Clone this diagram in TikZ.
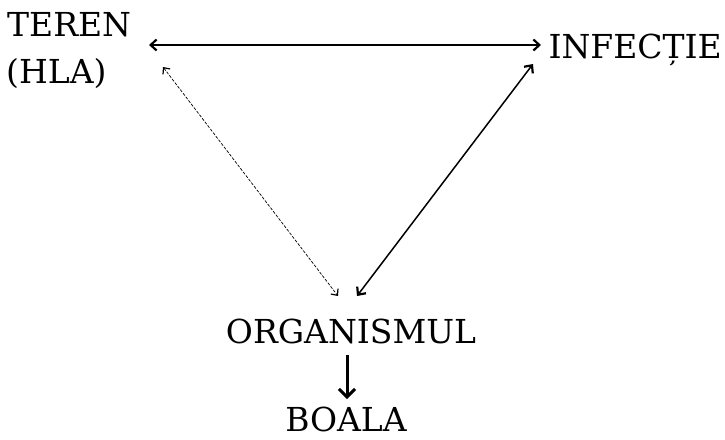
\documentclass[tikz,border=0pt]{standalone}
\usepackage{fontspec}
\setmainfont{DejaVu Serif}
\usetikzlibrary{arrows.meta}
\begin{document}
\begin{tikzpicture}[x=1pt,y=-1pt,
  lbl/.style={inner sep=0pt,text depth=0pt,font=\fontsize{33}{46}\selectfont},
  solidarrow/.style={line width=1.4pt,{Straight Barb[length=6pt,width=11pt,line width=2.2pt]}-{Straight Barb[length=6pt,width=11pt,line width=2.2pt]}},
  dotarrow/.style={line width=0.7pt,dash pattern=on 3pt off 1.5pt,{Straight Barb[length=5pt,width=9pt,line width=1.2pt]}-{Straight Barb[length=5pt,width=9pt,line width=1.2pt]}},
  downarrow/.style={line width=3pt,-{Straight Barb[length=8pt,width=16pt,line width=3pt]}}]
\useasboundingbox (0,0) rectangle (725,439);
\node[lbl,anchor=base west] (teren) at (7,36) {TEREN};
\node[lbl,anchor=base west] (hla) at (6,83) {(HLA)};
\node[lbl,anchor=base east] (infectie) at (722,58) {INFECȚIE};
\node[lbl,anchor=base] (organismul) at (351,343) {ORGANISMUL};
\node[lbl,anchor=base] (boala) at (346,431) {BOALA};
\coordinate (hl) at (149,45);
\coordinate (hr) at (541,45);
\coordinate (dl) at (163,67);
\coordinate (dr) at (338,296);
\coordinate (rl) at (533,64);
\coordinate (rr) at (357,296);
\coordinate (vt) at (347,355);
\coordinate (vb) at (347,399);
\draw[solidarrow] (hl) -- (hr);
\draw[dotarrow] (dl) -- (dr);
\draw[solidarrow,line width=1.5pt] (rl) -- (rr);
\draw[downarrow] (vt) -- (vb);
\end{tikzpicture}
\end{document}
